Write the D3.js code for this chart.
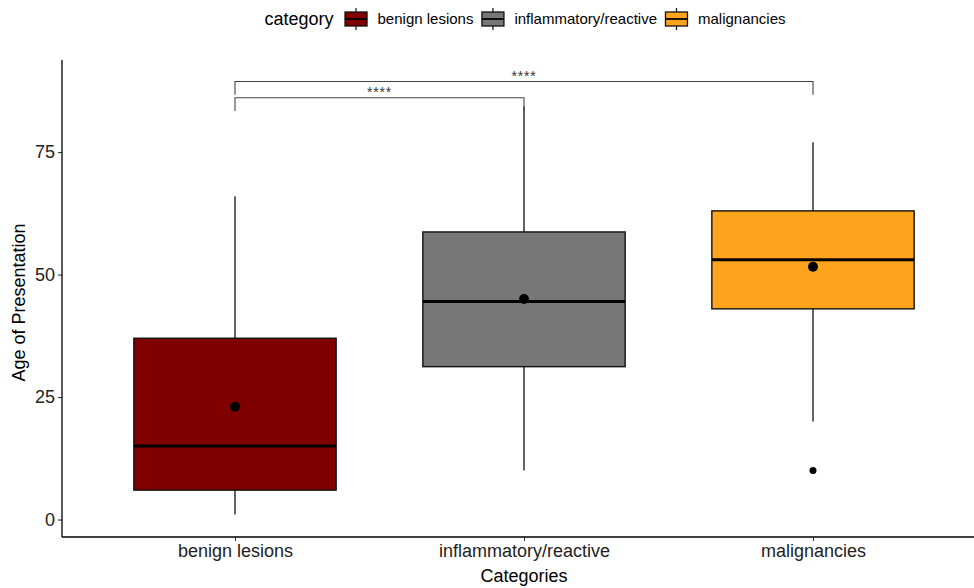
<!DOCTYPE html>
<html>
<head>
<meta charset="utf-8">
<script src="https://cdn.jsdelivr.net/npm/d3@7"></script>
<style>
  html, body { margin: 0; padding: 0; background: #fff; }
  svg { display: block; font-family: "Liberation Sans", Arial, Helvetica, sans-serif; }
</style>
</head>
<body>
<svg id="chart" width="974" height="588"></svg>
<script>
// Categories and box-plot summaries (age at presentation)
const categories = ["benign lesions", "inflammatory/reactive", "malignancies"];
const fills      = ["#800000", "#777777", "#ffa41c"];
const whiskerLow  = [1, 10, 20];
const q1          = [6, 31.2, 43];
const medians     = [15, 44.5, 53];
const q3          = [37, 58.7, 63];
const whiskerHigh = [66, 84.3, 77];
const means       = [23, 45, 51.6];
const outliers    = [{ cat: "malignancies", value: 10 }];
const yTicks      = [0, 25, 50, 75];

// Pairwise comparisons drawn as brackets
const comparisons = [
  { from: "benign lesions", to: "inflammatory/reactive", y: 86.1, tip: 83.4, label: "****" },
  { from: "benign lesions", to: "malignancies", y: 89.4, tip: 86.7, label: "****" }
];

const svg = d3.select("#chart");
const panel = { left: 62, right: 974, top: 60, bottom: 537 };
const FONT = "'Liberation Sans', Arial, sans-serif";

const x = d3.scalePoint().domain(categories).range([235, 813]);
const step = 289;
const boxW = step * 0.7;
const y = d3.scaleLinear().domain([-3.57, 93.8]).range([panel.bottom, panel.top]);

const rows = categories.map((c, i) => ({
  cat: c, fill: fills[i], lo: whiskerLow[i], q1: q1[i], med: medians[i],
  q3: q3[i], hi: whiskerHigh[i], mean: means[i]
}));

// Boxes
const g = svg.append("g");
const box = g.selectAll("g.box").data(rows).join("g").attr("class", "box");

box.append("line")
  .attr("x1", d => x(d.cat)).attr("x2", d => x(d.cat))
  .attr("y1", d => y(d.q3)).attr("y2", d => y(d.hi))
  .attr("stroke", "#222").attr("stroke-width", 1.4);
box.append("line")
  .attr("x1", d => x(d.cat)).attr("x2", d => x(d.cat))
  .attr("y1", d => y(d.q1)).attr("y2", d => y(d.lo))
  .attr("stroke", "#222").attr("stroke-width", 1.4);
box.append("rect")
  .attr("x", d => x(d.cat) - boxW / 2).attr("width", boxW)
  .attr("y", d => y(d.q3)).attr("height", d => y(d.q1) - y(d.q3))
  .attr("fill", d => d.fill).attr("stroke", "#111").attr("stroke-width", 1.4);
box.append("line")
  .attr("x1", d => x(d.cat) - boxW / 2).attr("x2", d => x(d.cat) + boxW / 2)
  .attr("y1", d => y(d.med)).attr("y2", d => y(d.med))
  .attr("stroke", "#000").attr("stroke-width", 3);
box.append("circle")
  .attr("cx", d => x(d.cat)).attr("cy", d => y(d.mean)).attr("r", 5)
  .attr("fill", "#000");

g.selectAll("circle.outlier").data(outliers).join("circle")
  .attr("class", "outlier")
  .attr("cx", d => x(d.cat)).attr("cy", d => y(d.value)).attr("r", 3.5)
  .attr("fill", "#000");

// Significance brackets
const br = svg.append("g").selectAll("g").data(comparisons).join("g");
br.append("path")
  .attr("d", d => `M${x(d.from)},${y(d.tip)}V${y(d.y)}H${x(d.to)}V${y(d.tip)}`)
  .attr("fill", "none").attr("stroke", "#444").attr("stroke-width", 1.1);
br.append("text")
  .attr("x", d => (x(d.from) + x(d.to)) / 2).attr("y", d => y(d.y) - 0.5)
  .attr("text-anchor", "middle").attr("font-size", 14).attr("letter-spacing", 0.8)
  .attr("fill", "#333")
  .text(d => d.label);

// Axes
const yAxis = d3.axisLeft(y).tickValues(yTicks).tickSize(4).tickPadding(3);
const ya = svg.append("g").attr("transform", `translate(${panel.left},0)`).call(yAxis);
ya.select(".domain").remove();
ya.append("line").attr("x1", 0).attr("x2", 0)
  .attr("y1", panel.top).attr("y2", panel.bottom).attr("stroke", "#000").attr("stroke-width", 1.3);
ya.selectAll(".tick line").attr("stroke", "#333").attr("stroke-width", 1.1);
ya.selectAll(".tick text").attr("font-size", 18).attr("fill", "#222").attr("font-family", FONT);

const xAxis = d3.axisBottom(x).tickSize(4).tickPadding(3);
const xa = svg.append("g").attr("transform", `translate(0,${panel.bottom})`).call(xAxis);
xa.select(".domain").remove();
xa.append("line").attr("x1", panel.left).attr("x2", panel.right)
  .attr("y1", 0).attr("y2", 0).attr("stroke", "#000").attr("stroke-width", 1.3);
xa.selectAll(".tick line").attr("stroke", "#333").attr("stroke-width", 1.1);
xa.selectAll(".tick text").attr("font-size", 18).attr("fill", "#222").attr("font-family", FONT);

// Axis titles
svg.append("text").attr("x", x("inflammatory/reactive")).attr("y", 582)
  .attr("text-anchor", "middle").attr("font-size", 18).attr("fill", "#000")
  .text("Categories");
svg.append("text").attr("transform", `translate(25,${(panel.top + panel.bottom) / 2 + 4}) rotate(-90)`)
  .attr("text-anchor", "middle").attr("font-size", 18).attr("fill", "#000")
  .text("Age of Presentation");

// Legend
const leg = svg.append("g");
const title = leg.append("text").attr("x", 0).attr("y", 25).attr("font-size", 18).text("category");
let cx = title.node().getComputedTextLength() + 11;
const keyW = 23, keyH = 14;
rows.forEach(d => {
  const k = leg.append("g").attr("transform", `translate(${cx},0)`);
  k.append("line").attr("x1", keyW / 2).attr("x2", keyW / 2).attr("y1", 8).attr("y2", 30)
    .attr("stroke", "#222").attr("stroke-width", 1.3);
  k.append("rect").attr("x", 0.5).attr("y", 12).attr("width", keyW - 1).attr("height", keyH)
    .attr("fill", d.fill).attr("stroke", "#111").attr("stroke-width", 1.3);
  k.append("line").attr("x1", 0.5).attr("x2", keyW - 0.5).attr("y1", 19).attr("y2", 19)
    .attr("stroke", "#000").attr("stroke-width", 1.8);
  const t = leg.append("text").attr("x", cx + keyW + 10).attr("y", 24)
    .attr("font-size", 15).text(d.cat);
  cx += keyW + 10 + t.node().getComputedTextLength() + 8;
});
const legW = cx - 8;
leg.attr("transform", `translate(${525 - legW / 2},0)`);
</script>
</body>
</html>
